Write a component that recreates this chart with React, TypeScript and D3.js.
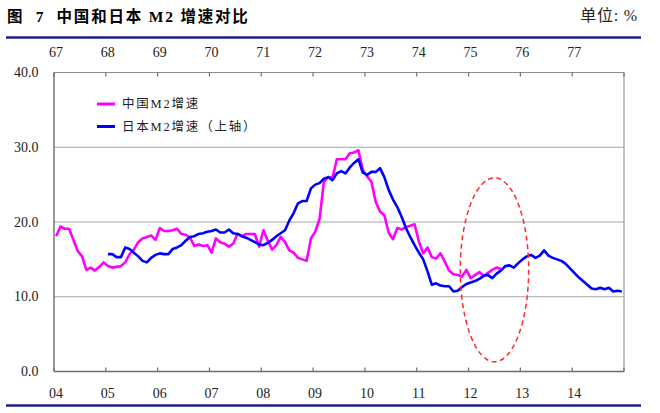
import React from "react";
import * as d3 from "d3";

// China M2 yoy growth (%), monthly from 2004-01 (bottom axis)
const chinaM2 = [
  18.1, 19.4, 19.1, 19.1, 17.6, 16.1, 15.4, 13.6, 13.9, 13.5, 14.0, 14.6,
  14.1, 13.9, 14.0, 14.1, 14.6, 15.7, 16.3, 17.3, 17.8, 18.0, 18.2, 17.6,
  19.2, 18.8, 18.8, 18.9, 19.1, 18.4, 18.3, 17.9, 16.8, 17.0, 16.8, 16.9,
  15.9, 17.8, 17.3, 17.1, 16.7, 17.1, 18.4, 18.1, 18.4, 18.4, 18.4, 16.7,
  18.9, 17.5, 16.3, 16.9, 18.0, 17.3, 16.2, 15.9, 15.2, 15.0, 14.8, 17.8,
  18.7, 20.4, 25.4, 26.0, 25.9, 28.4, 28.4, 28.4, 29.2, 29.3, 29.6, 27.0,
  26.1, 25.4, 22.7, 21.4, 20.9, 18.6, 17.7, 19.2, 19.0, 19.3, 19.5, 19.7,
  17.4, 15.8, 16.6, 15.3, 15.1, 15.8, 14.7, 13.5, 13.0, 12.9, 12.7, 13.6,
  12.5, 12.9, 13.3, 12.8, 13.2, 13.6, 13.9, 13.7,
];

// Japan M2 yoy growth (%), monthly from 1968-01 (top axis)
const japanM2 = [
  15.7, 15.7, 15.3, 15.3, 16.6, 16.4, 15.9, 15.4, 14.8, 14.6, 15.2, 15.6,
  15.8, 15.7, 15.7, 16.4, 16.6, 16.9, 17.5, 18.0, 18.1, 18.4, 18.5, 18.7,
  18.8, 19.0, 18.6, 18.6, 19.0, 18.5, 18.4, 18.1, 17.9, 17.6, 17.3, 17.0,
  16.9, 17.2, 17.6, 18.1, 18.5, 18.9, 20.2, 21.2, 22.5, 22.8, 22.8, 24.5,
  25.0, 25.2, 25.8, 26.0, 25.6, 26.5, 26.8, 26.5, 27.3, 27.9, 28.4, 26.6,
  26.3, 26.7, 26.7, 27.2, 26.0, 24.3, 23.0, 22.0, 20.7, 19.2, 18.0, 16.9,
  15.9, 15.0, 13.4, 11.6, 11.8, 11.5, 11.4, 11.4, 10.7, 10.8, 11.3, 11.7,
  11.9, 12.1, 12.4, 12.8, 12.9, 12.5, 13.1, 13.5, 14.1, 14.2, 13.9, 14.5,
  15.0, 15.4, 15.6, 15.2, 15.5, 16.2, 15.5, 15.2, 15.0, 14.8, 14.4, 13.8,
  13.2, 12.6, 12.1, 11.6, 11.1, 11.0, 11.2, 11.0, 11.2, 10.7, 10.8, 10.7,
];

const chinaStartYear = 2004;
const japanStartYear = 1968;

const bottomYears = d3.range(2004, 2016);
const topYears = d3.range(1967, 1979);
const yTicks = [0, 10, 20, 30, 40];

const legendItems = [
  { label: "中国M2增速", color: "#ff00ff" },
  { label: "日本M2增速（上轴）", color: "#0000ff" },
];

// dashed ellipse highlighting 2012-2013
const highlight = { year: 2012.5, value: 13.6, halfYears: 0.66, halfValue: 12.3 };

const W = 660;
const H = 413;
const serif = "'Liberation Serif', 'Noto Sans CJK SC', serif";

export default function App() {
  const left = 54;
  const right = 624;
  const top = 72.5;
  const bottom = 371.5;

  const x = d3.scaleLinear().domain([2004, 2015]).range([left, right]);
  const xTop = d3.scaleLinear().domain([1967, 1978]).range([left, right]);
  const y = d3.scaleLinear().domain([0, 40]).range([bottom, top]);

  const chinaLine = d3
    .line<number>()
    .x((_, i) => x(chinaStartYear + (i + 0.5) / 12))
    .y((d) => y(d));
  const japanLine = d3
    .line<number>()
    .x((_, i) => xTop(japanStartYear + (i + 0.5) / 12))
    .y((d) => y(d));

  const ecx = x(highlight.year);
  const ecy = y(highlight.value);
  const erx = x(highlight.year + highlight.halfYears) - ecx;
  const ery = y(highlight.value - highlight.halfValue) - ecy;

  const navy = "#1c1c8e";

  return (
    <svg
      width={W}
      height={H}
      style={{ position: "absolute", left: 0, top: 0, background: "#fff" }}
    >
      <text
        x={7}
        y={22}
        fontFamily={serif}
        fontWeight="bold"
        fontSize={15.5}
        letterSpacing={1.8}
        style={{ whiteSpace: "pre" }}
      >
        {"图  7  中国和日本 M2 增速对比"}
      </text>
      <text
        x={638}
        y={21}
        textAnchor="end"
        fontFamily={serif}
        fontSize={16}
        letterSpacing={0.8}
        fill="#222"
      >
        单位: %
      </text>
      <line x1={6} x2={641} y1={37.5} y2={37.5} stroke={navy} strokeWidth={2.5} />
      <line x1={6} x2={641} y1={405.5} y2={405.5} stroke={navy} strokeWidth={2.5} />

      {/* gridlines */}
      {yTicks.slice(1).map((t) => (
        <line
          key={t}
          x1={left}
          x2={right}
          y1={y(t)}
          y2={y(t)}
          stroke={t === 40 ? "#8c8c8c" : "#a6a6a6"}
          strokeWidth={1}
        />
      ))}
      <line x1={right} x2={right} y1={top} y2={bottom} stroke="#9a9a9a" strokeWidth={1.2} />

      {/* y axis */}
      <line x1={left} x2={left} y1={top} y2={bottom} stroke="#777" strokeWidth={1.5} />
      {yTicks.map((t) => (
        <text
          key={t}
          x={38.5}
          y={y(t)}
          textAnchor="end"
          dominantBaseline="central"
          fontFamily={serif}
          fontSize={14}
          fill="#222"
        >
          {t.toFixed(1)}
        </text>
      ))}

      {/* bottom axis */}
      <line x1={left} x2={right} y1={bottom} y2={bottom} stroke="#6e6e6e" strokeWidth={1.5} />
      {bottomYears.map((yr) => (
        <g key={yr}>
          <line x1={x(yr)} x2={x(yr)} y1={bottom} y2={bottom - 4} stroke="#6e6e6e" strokeWidth={1.2} />
          {yr < 2015 && (
            <text
              x={x(yr) + 2}
              y={393}
              textAnchor="middle"
              dominantBaseline="central"
              fontFamily={serif}
              fontSize={14}
              fill="#222"
            >
              {String(yr % 100).padStart(2, "0")}
            </text>
          )}
        </g>
      ))}

      {/* top axis */}
      {topYears.map((yr) => (
        <g key={yr}>
          <line x1={xTop(yr)} x2={xTop(yr)} y1={top} y2={top + 4} stroke="#6e6e6e" strokeWidth={1.2} />
          {yr < 1978 && (
            <text
              x={xTop(yr) + 2}
              y={52.5}
              textAnchor="middle"
              dominantBaseline="central"
              fontFamily={serif}
              fontSize={14}
              fill="#222"
            >
              {String(yr % 100)}
            </text>
          )}
        </g>
      ))}

      {/* series */}
      <path d={chinaLine(chinaM2) ?? ""} fill="none" stroke="#ff00ff" strokeWidth={2.6} strokeLinejoin="round" />
      <path d={japanLine(japanM2) ?? ""} fill="none" stroke="#0000ff" strokeWidth={2.6} strokeLinejoin="round" />

      {/* highlight ellipse */}
      <ellipse
        cx={ecx}
        cy={ecy}
        rx={erx}
        ry={ery}
        fill="none"
        stroke="#ff2a2a"
        strokeWidth={1.5}
        strokeDasharray="5 3.5"
      />

      {/* legend */}
      {legendItems.map((item, i) => {
        const ly = 104 + i * 22.5;
        return (
          <g key={item.label}>
            <line x1={97} x2={115} y1={ly} y2={ly} stroke={item.color} strokeWidth={3} />
            <text
              x={122}
              y={ly}
              dominantBaseline="central"
              fontFamily={serif}
              fontSize={12.5}
              letterSpacing={1.8}
              fill="#222"
            >
              {item.label}
            </text>
          </g>
        );
      })}
    </svg>
  );
}
